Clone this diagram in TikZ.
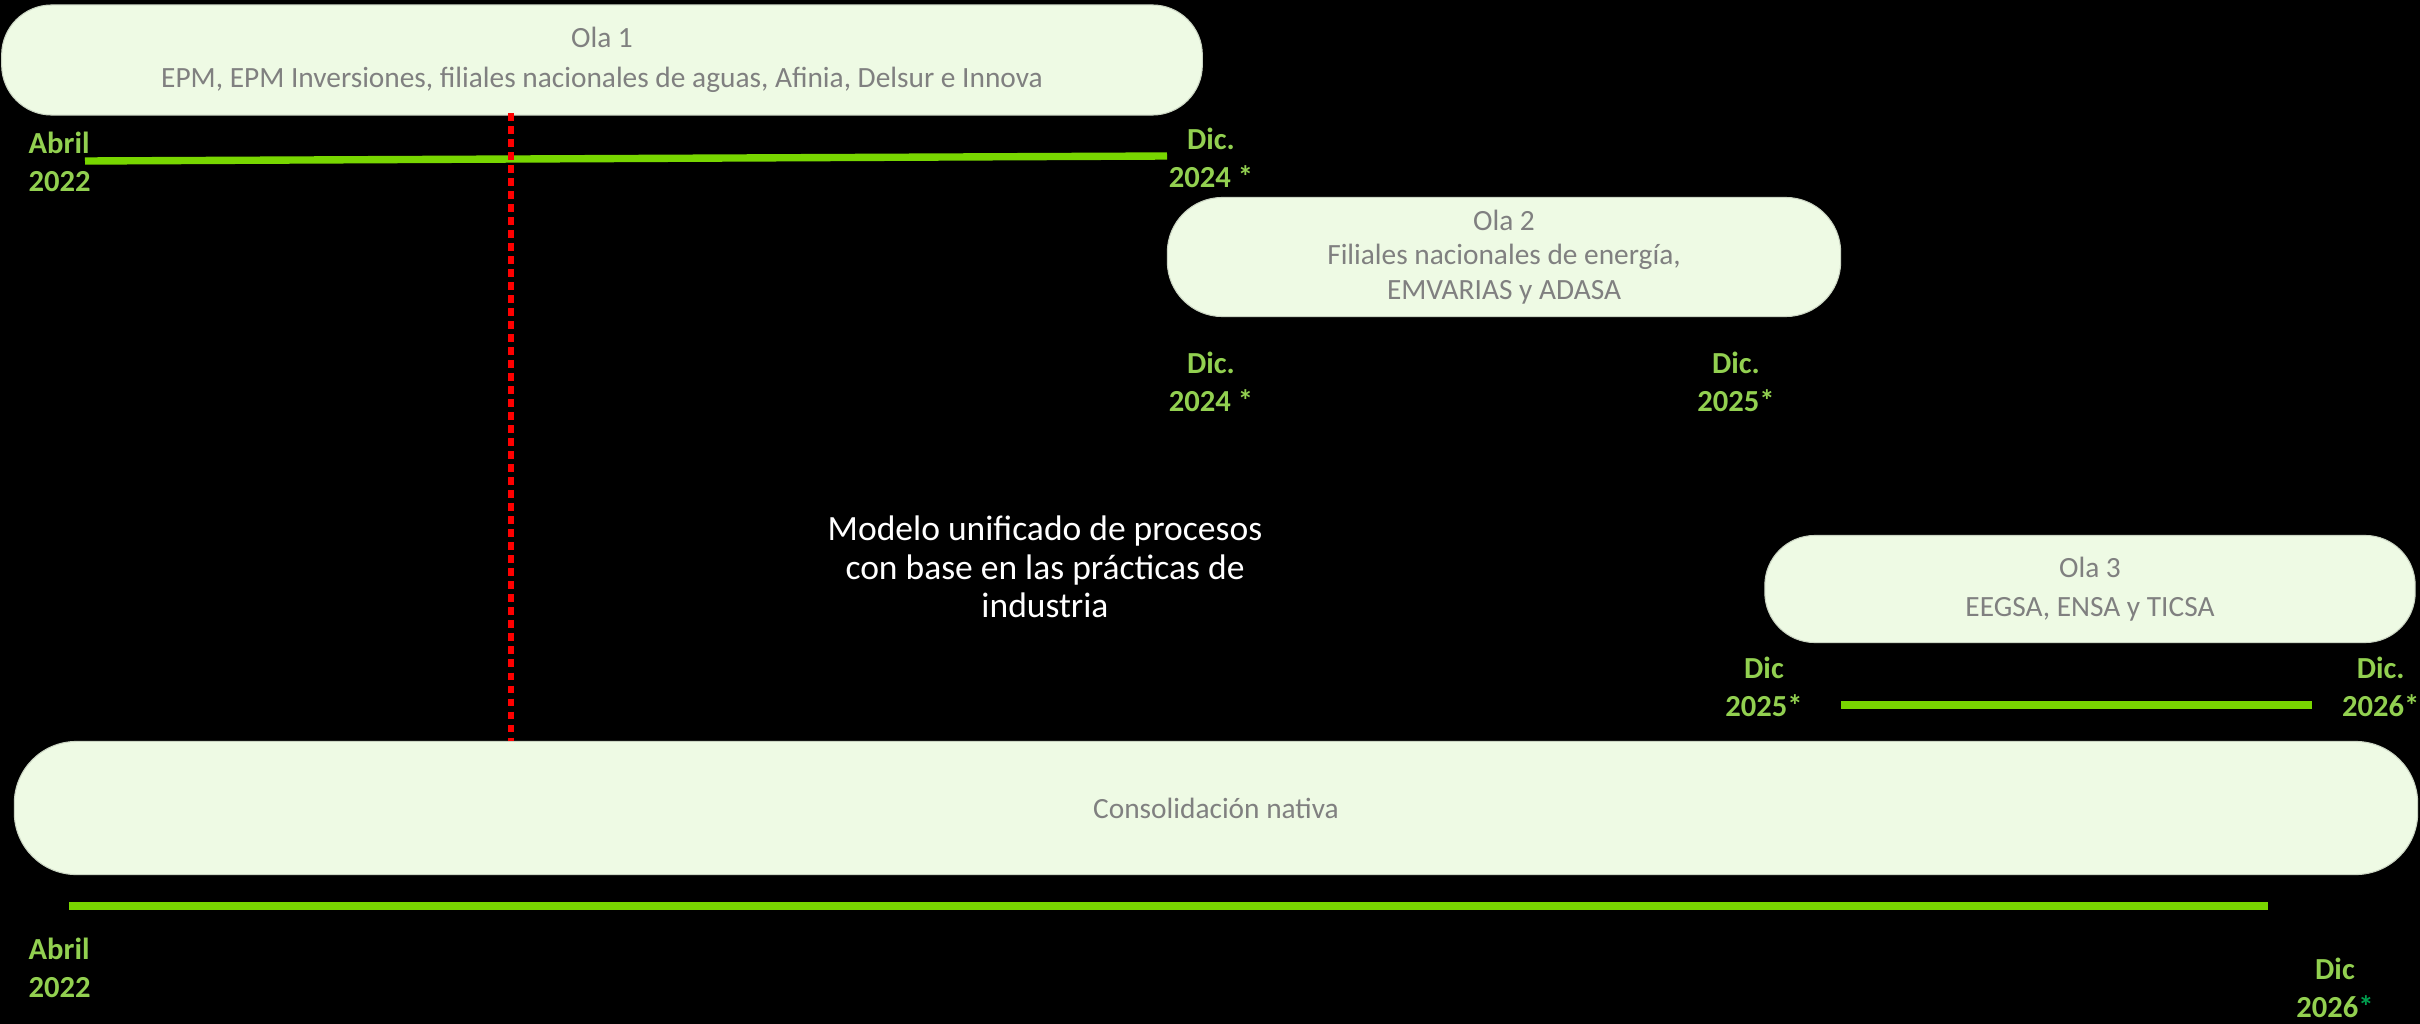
\documentclass[tikz,border=0pt]{standalone}
\usepackage{fontspec}
\setmainfont{Carlito}
\usetikzlibrary{positioning}
\definecolor{mygreen}{RGB}{146,208,80}
\definecolor{mylime}{RGB}{120,214,0}
\definecolor{mydarkgreen}{RGB}{0,160,80}
\definecolor{myfill}{RGB}{238,250,228}
\definecolor{mygrey}{RGB}{128,128,128}
\definecolor{myred}{RGB}{255,0,0}

\begin{document}
\begin{tikzpicture}[
		x=0.01cm, y=-0.01cm,
		wave/.style={rectangle, fill=myfill, draw=myfill!85!black, line width=0.3pt, text=mygrey, align=center, font=\fontsize{8.35}{11.2}\selectfont},
		date/.style={text=mygreen, align=center, inner sep=0pt, font=\bfseries\fontsize{8.7}{10.8}\selectfont},
		bar/.style={draw=mylime, line width=2.1pt},
		cut/.style={draw=myred, line width=1.6pt, dash pattern=on 2.2pt off 1.5pt}
		]
		
		% Background
		\fill[black] (0,0) rectangle (2420,1024);
		\useasboundingbox (0,0) rectangle (2420,1024);
		
		% Nodes
		\node[wave, minimum width=12.0cm, minimum height=1.1cm, rounded corners=0.5cm] (ola1) at (602,60) {Ola 1\\EPM, EPM Inversiones, filiales nacionales de aguas, Afinia, Delsur e Innova};
		\node[wave, minimum width=6.73cm, minimum height=1.19cm, rounded corners=0.55cm, font=\fontsize{8.35}{9.8}\selectfont] (ola2) at (1504,257) {Ola 2\\Filiales nacionales de energía,\\EMVARIAS y ADASA};
		\node[wave, minimum width=6.5cm, minimum height=1.07cm, rounded corners=0.5cm] (ola3) at (2090,589) {Ola 3\\EEGSA, ENSA y TICSA};
		\node[wave, minimum width=24.02cm, minimum height=1.33cm, rounded corners=0.62cm] (cons) at (1216,808) {Consolidación nativa};
		
		\node[text=white, align=center, font=\fontsize{10.1}{11}\selectfont] (modelo) at (1045,567) {Modelo unificado de procesos\\con base en las prácticas de\\industria};
		
		\node[date, anchor=west, align=left] (abril1) at (28,162) {Abril\\2022};
		\node[date] (dic1) at (1211,158) {Dic.\\2024 *};
		\node[date] (dic2) at (1211,382) {Dic.\\2024 *};
		\node[date] (dic3) at (1736,382) {Dic.\\2025*};
		\node[date] (dic4) at (1764,687) {Dic\\2025*};
		\node[date, anchor=east] (dic5) at (2420,687) {Dic.\\2026*};
		\node[date, anchor=west, align=left] (abril2) at (28,968) {Abril\\2022};
		\node[date] (dic6) at (2335,988) {Dic\\2026\textcolor{mydarkgreen}{*}};
		
		\coordinate (a1) at (85,161);
		\coordinate (b1) at (1167,156);
		\coordinate (a3) at (1841,705);
		\coordinate (b3) at (2312,705);
		\coordinate (a4) at (69,906);
		\coordinate (b4) at (2268,906);
		\coordinate (r1) at (511,113);
		\coordinate (r2) at (511,741);
		
		% Lines
		\draw[bar] (a1) -- (b1);
		\draw[bar] (a3) -- (b3);
		\draw[bar] (a4) -- (b4);
		\draw[cut] (r1) -- (r2);
		
	\end{tikzpicture}
\end{document}
